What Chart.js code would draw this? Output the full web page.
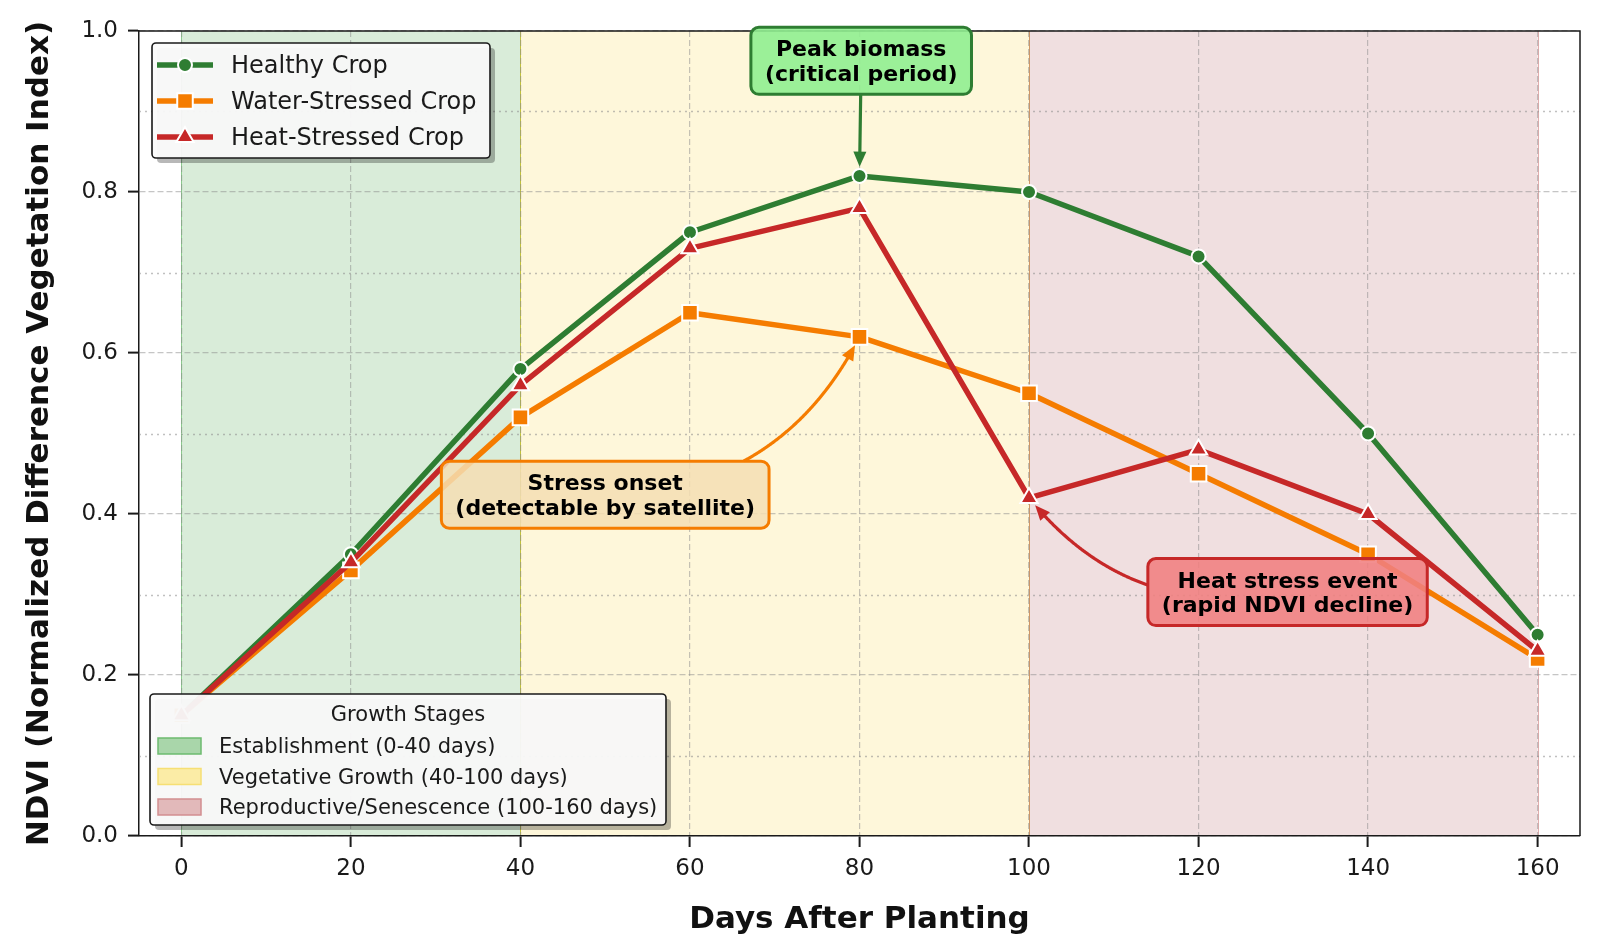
<!DOCTYPE html>
<html>
<head>
<meta charset="utf-8">
<title>NDVI crop stress</title>
<script src="https://cdn.jsdelivr.net/npm/chart.js@4.4.1/dist/chart.umd.min.js"></script>
<style>
  html, body { margin: 0; padding: 0; background: #fff; }
  #wrap { width: 1620px; height: 945px; position: relative; }
</style>
</head>
<body>
<div id="wrap"><canvas id="chart"></canvas></div>
<script>
// values
const days = [0, 20, 40, 60, 80, 100, 120, 140, 160];
const healthyNdvi = [0.15, 0.35, 0.58, 0.75, 0.82, 0.80, 0.72, 0.50, 0.25];
const waterNdvi = [0.15, 0.33, 0.52, 0.65, 0.62, 0.55, 0.45, 0.35, 0.22];
const heatNdvi = [0.15, 0.34, 0.56, 0.73, 0.78, 0.42, 0.48, 0.40, 0.23];
const yMinorTicks = [0.1, 0.3, 0.5, 0.7, 0.9];

const stageNames = ['Establishment (0-40 days)', 'Vegetative Growth (40-100 days)', 'Reproductive/Senescence (100-160 days)'];
const stageStart = [0, 40, 100];
const stageEnd = [40, 100, 160];

const FONT = "'DejaVu Sans', 'Liberation Sans', sans-serif";

const stageStyle = [
  { fill: '#d9ecd9', edge: 'rgba(76,175,80,0.6)', patch: '#a9d6aa', patchEdge: '#6dbb6f' },
  { fill: '#fef7da', edge: 'rgba(205,190,40,0.8)', patch: '#fbeca6', patchEdge: '#f6df74' },
  { fill: '#f0dfe0', edge: 'rgba(205,120,120,0.6)', patch: '#e2b9ba', patchEdge: '#d28e90' },
];

// text boxes with arrows, anchored in data units (like matplotlib annotate)
const notes = [
  { lines: ['Peak biomass', '(critical period)'], at: [80, 0.82], textAt: [80.2, 0.963], rad: 0,
    face: 'rgba(144,238,144,0.9)', edge: '#2e7d32' },
  { lines: ['Stress onset', '(detectable by satellite)'], at: [80, 0.62], textAt: [50, 0.424], rad: 0.3,
    face: 'rgba(245,222,179,0.85)', edge: '#f57c00' },
  { lines: ['Heat stress event', '(rapid NDVI decline)'], at: [100, 0.42], textAt: [130.5, 0.303], rad: -0.3,
    face: 'rgba(240,128,128,0.88)', edge: '#c62828' },
];

const toPoints = (vals) => days.map((d, i) => ({ x: d, y: vals[i] }));

function roundRect(ctx, x, y, w, h, r) {
  ctx.beginPath();
  ctx.moveTo(x + r, y);
  ctx.arcTo(x + w, y, x + w, y + h, r);
  ctx.arcTo(x + w, y + h, x, y + h, r);
  ctx.arcTo(x, y + h, x, y, r);
  ctx.arcTo(x, y, x + w, y, r);
  ctx.closePath();
}

const backdrop = {
  id: 'backdrop',
  beforeDraw(chart) {
    const { ctx, chartArea: a, scales: { x } } = chart;
    ctx.save();
    ctx.fillStyle = '#fff';
    ctx.fillRect(0, 0, chart.width, chart.height);
    stageStart.forEach((s, i) => {
      const x1 = x.getPixelForValue(s);
      const x2 = x.getPixelForValue(stageEnd[i]);
      ctx.fillStyle = stageStyle[i].fill;
      ctx.fillRect(x1, a.top, x2 - x1, a.bottom - a.top);
    });
    stageStart.forEach((s, i) => {
      ctx.strokeStyle = stageStyle[i].edge;
      ctx.lineWidth = 1;
      [s, stageEnd[i]].forEach((v) => {
        const px = Math.round(x.getPixelForValue(v)) + 0.5;
        ctx.beginPath();
        ctx.moveTo(px, a.top);
        ctx.lineTo(px, a.bottom);
        ctx.stroke();
      });
    });
    ctx.restore();
  },
  beforeDatasetsDraw(chart) {
    const { ctx, chartArea: a, scales: { y } } = chart;
    ctx.save();
    ctx.strokeStyle = 'rgba(140,140,140,0.55)';
    ctx.lineWidth = 1.5;
    ctx.setLineDash([2, 4]);
    yMinorTicks.forEach((v) => {
      const py = Math.round(y.getPixelForValue(v)) + 0.5;
      ctx.beginPath();
      ctx.moveTo(a.left, py);
      ctx.lineTo(a.right, py);
      ctx.stroke();
    });
    ctx.restore();
  },
};

function drawLegendBox(ctx, x, y, w, h) {
  ctx.fillStyle = 'rgba(0,0,0,0.28)';
  roundRect(ctx, x + 5, y + 5, w, h, 4);
  ctx.fill();
  ctx.fillStyle = 'rgba(251,251,251,0.95)';
  roundRect(ctx, x, y, w, h, 4);
  ctx.fill();
  ctx.strokeStyle = '#1a1a1a';
  ctx.lineWidth = 1.6;
  ctx.stroke();
}

function drawNote(ctx, chart, note) {
  const { x: xs, y: ys } = chart.scales;
  const p0 = { x: xs.getPixelForValue(note.textAt[0]), y: ys.getPixelForValue(note.textAt[1]) };
  const p2 = { x: xs.getPixelForValue(note.at[0]), y: ys.getPixelForValue(note.at[1]) };
  ctx.font = 'bold 22px ' + FONT;
  const lineH = 24.5;
  const tw = Math.max(...note.lines.map((t) => ctx.measureText(t).width));
  const box = { w: tw + 28, h: note.lines.length * lineH + 18 };
  box.x = p0.x - box.w / 2;
  box.y = p0.y - box.h / 2;

  // arc3 connection, from the text centre to the point
  const dx = p2.x - p0.x, dy = p2.y - p0.y;
  const c = { x: (p0.x + p2.x) / 2 - note.rad * dy, y: (p0.y + p2.y) / 2 + note.rad * dx };
  const pts = [];
  for (let i = 0; i <= 400; i++) {
    const t = i / 400, u = 1 - t;
    pts.push({ x: u * u * p0.x + 2 * u * t * c.x + t * t * p2.x, y: u * u * p0.y + 2 * u * t * c.y + t * t * p2.y });
  }
  const dist = (p, q) => Math.hypot(p.x - q.x, p.y - q.y);
  const s = pts.findIndex((p) => p.x < box.x || p.x > box.x + box.w || p.y < box.y || p.y > box.y + box.h);
  let e = pts.length - 1;
  while (e > 0 && dist(pts[e], p2) < 9) e--;
  const tip = pts[e];
  let b = e;
  while (b > s && dist(pts[b], tip) < 12) b--;
  const base = pts[b];
  const ang = Math.atan2(tip.y - base.y, tip.x - base.x);

  ctx.save();
  ctx.strokeStyle = note.edge;
  ctx.fillStyle = note.edge;
  ctx.lineWidth = 3.2;
  ctx.lineCap = 'butt';
  ctx.beginPath();
  ctx.moveTo(pts[s].x, pts[s].y);
  for (let i = s + 1; i <= b; i++) ctx.lineTo(pts[i].x, pts[i].y);
  ctx.stroke();
  const hl = 15, hw = 6.5;
  ctx.beginPath();
  ctx.moveTo(tip.x, tip.y);
  ctx.lineTo(tip.x - hl * Math.cos(ang) + hw * Math.sin(ang), tip.y - hl * Math.sin(ang) - hw * Math.cos(ang));
  ctx.lineTo(tip.x - hl * Math.cos(ang) - hw * Math.sin(ang), tip.y - hl * Math.sin(ang) + hw * Math.cos(ang));
  ctx.closePath();
  ctx.fill();

  roundRect(ctx, box.x, box.y, box.w, box.h, 8);
  ctx.fillStyle = note.face;
  ctx.fill();
  ctx.lineWidth = 3;
  ctx.strokeStyle = note.edge;
  ctx.stroke();
  ctx.fillStyle = '#000';
  ctx.textAlign = 'center';
  ctx.textBaseline = 'middle';
  note.lines.forEach((t, i) => {
    ctx.fillText(t, p0.x, p0.y + 2 + (i - (note.lines.length - 1) / 2) * lineH);
  });
  ctx.restore();
}

const overlay = {
  id: 'overlay',
  afterDraw(chart) {
    const { ctx, chartArea: a } = chart;
    ctx.save();
    // top and right spines
    ctx.strokeStyle = '#1a1a1a';
    ctx.lineWidth = 1.5;
    ctx.beginPath();
    ctx.moveTo(a.left, a.top);
    ctx.lineTo(a.right, a.top);
    ctx.lineTo(a.right, a.bottom);
    ctx.stroke();

    notes.forEach((n) => drawNote(ctx, chart, n));

    // series legend
    drawLegendBox(ctx, 152, 43, 338, 115);
    ctx.font = '24px ' + FONT;
    ctx.textBaseline = 'middle';
    ctx.textAlign = 'left';
    chart.data.datasets.forEach((ds, i) => {
      const ry = 65 + i * 36;
      ctx.strokeStyle = ds.borderColor;
      ctx.lineWidth = ds.borderWidth;
      ctx.beginPath();
      ctx.moveTo(157, ry);
      ctx.lineTo(213, ry);
      ctx.stroke();
      ctx.fillStyle = ds.pointBackgroundColor;
      ctx.strokeStyle = ds.pointBorderColor;
      ctx.lineWidth = ds.pointBorderWidth;
      Chart.helpers.drawPoint(ctx, { pointStyle: ds.pointStyle, radius: ds.pointRadius, rotation: 0, borderWidth: ds.pointBorderWidth }, 185, ry);
      ctx.fillStyle = '#1a1a1a';
      ctx.fillText(ds.label, 231, ry + 2);
    });

    // growth stage legend
    drawLegendBox(ctx, 150, 694, 516, 131);
    ctx.font = '21px ' + FONT;
    ctx.textAlign = 'center';
    ctx.fillStyle = '#1a1a1a';
    ctx.fillText('Growth Stages', 408, 716);
    ctx.textAlign = 'left';
    stageNames.forEach((name, i) => {
      const ry = 746 + i * 30.5;
      ctx.fillStyle = stageStyle[i].patch;
      ctx.fillRect(158, ry - 8, 43, 16);
      ctx.strokeStyle = stageStyle[i].patchEdge;
      ctx.lineWidth = 1.5;
      ctx.strokeRect(158, ry - 8, 43, 16);
      ctx.fillStyle = '#1a1a1a';
      ctx.fillText(name, 219, ry + 2);
    });
    ctx.restore();
  },
};

const seriesStyle = (color, pointStyle, radius) => ({
  borderColor: color,
  backgroundColor: color,
  pointBackgroundColor: color,
  pointBorderColor: '#ffffff',
  pointBorderWidth: 2,
  pointStyle,
  pointRadius: radius,
  borderWidth: 5.5,
  borderJoinStyle: 'round',
  tension: 0,
  fill: false,
});

const gridDash = { color: 'rgba(140,140,140,0.5)', lineWidth: 1.2, tickColor: '#1a1a1a', tickWidth: 2, tickLength: 11, tickBorderDash: [] };

new Chart(document.getElementById('chart'), {
  type: 'line',
  data: {
    datasets: [
      { label: 'Healthy Crop', data: toPoints(healthyNdvi), order: 3, ...seriesStyle('#2e7d32', 'circle', 7) },
      { label: 'Water-Stressed Crop', data: toPoints(waterNdvi), order: 2, ...seriesStyle('#f57c00', 'rect', 11) },
      { label: 'Heat-Stressed Crop', data: toPoints(heatNdvi), order: 1, ...seriesStyle('#c62828', 'triangle', 10) },
    ],
  },
  options: {
    responsive: true,
    maintainAspectRatio: false,
    animation: false,
    events: [],
    layout: { padding: { top: 31, right: 40, left: 0, bottom: 0 } },
    plugins: { legend: { display: false }, tooltip: { enabled: false } },
    scales: {
      x: {
        type: 'linear',
        min: -5,
        max: 165,
        afterFit: (scale) => { scale.height = 109; },
        ticks: { stepSize: 20, includeBounds: false, padding: 8, color: '#1a1a1a', font: { family: FONT, size: 23 } },
        grid: gridDash,
        border: { color: '#1a1a1a', width: 1.5, dash: [6, 3] },
        title: { display: true, text: 'Days After Planting', color: '#111', padding: { top: 0, bottom: 6 }, font: { family: FONT, size: 31, weight: 'bold' } },
      },
      y: {
        min: 0,
        max: 1,
        afterFit: (scale) => { scale.width = 139; },
        ticks: { stepSize: 0.2, padding: 10, color: '#1a1a1a', font: { family: FONT, size: 23 }, callback: (v) => v.toFixed(1) },
        grid: gridDash,
        border: { color: '#1a1a1a', width: 1.5, dash: [6, 3] },
        title: { display: true, text: 'NDVI (Normalized Difference Vegetation Index)', color: '#111', padding: { top: 21, bottom: 0 }, font: { family: FONT, size: 31, weight: 'bold' } },
      },
    },
  },
  plugins: [backdrop, overlay],
});
</script>
</body>
</html>
